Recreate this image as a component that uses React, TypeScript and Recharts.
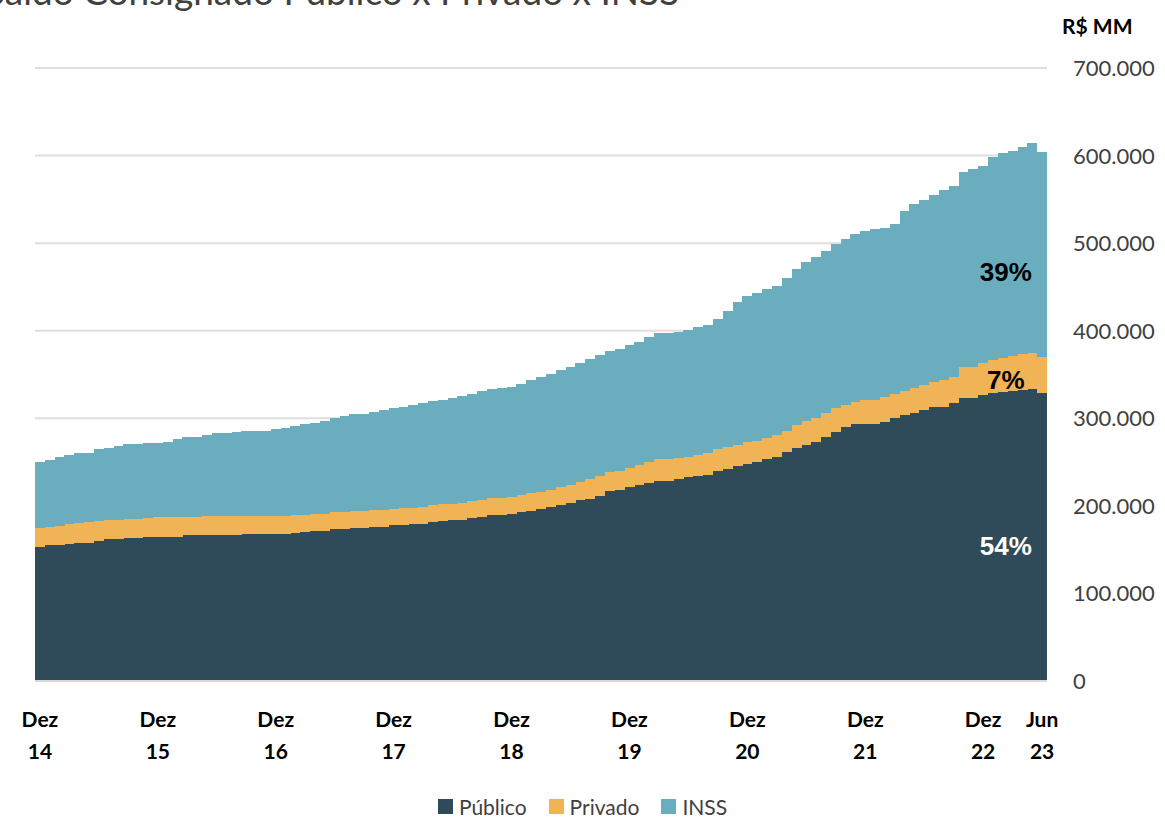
import React from 'react'
import { BarChart, Bar, XAxis, YAxis, CartesianGrid, Legend, LabelList } from 'recharts'

// saldo mensal, R$ MM, de Dez/14 a Jun/23
const meses = ['Jan', 'Fev', 'Mar', 'Abr', 'Mai', 'Jun', 'Jul', 'Ago', 'Set', 'Out', 'Nov', 'Dez']

const publico = [
  153000, 155300, 155300, 156500, 157600, 157600, 159900, 162200, 162200, 163300, 163300, 164400,
  164400, 164600, 164800, 166500, 166700, 166700, 166800, 166800, 166900, 167900, 167900, 168000,
  168000, 168100, 169000, 170200, 171300, 171400, 173600, 173700, 174700, 174800, 175900, 176000,
  178200, 178300, 179300, 179400, 181600, 182700, 183900, 184000, 186100, 187300, 189600, 189700,
  190700, 193000, 194100, 196400, 198700, 201000, 203300, 206700, 207800, 211300, 217000, 218100,
  221500, 223800, 226100, 228400, 228500, 230700, 233000, 234100, 235300, 239800, 242100, 245500,
  247800, 250100, 253500, 255800, 261500, 266100, 269500, 272900, 278600, 284400, 290100, 293500,
  293600, 293700, 295800, 300300, 303800, 306100, 309500, 312900, 313000, 317500, 323200, 323300,
  326600, 328900, 330000, 331200, 332300, 333500, 328900,
]

const privado = [
  21700, 20600, 21700, 22800, 22800, 23400, 22800, 21700, 22200, 21700, 22200, 22300,
  22500, 22600, 22500, 20600, 21000, 21200, 21300, 21400, 21300, 20600, 20600, 20700,
  20600, 20600, 20600, 19400, 19500, 19400, 19400, 19600, 19400, 19500, 19400, 19400,
  18300, 19400, 18300, 19400, 19400, 19400, 18300, 19400, 19400, 19400, 19400, 19500,
  19400, 19400, 20600, 19400, 19600, 20600, 20600, 20600, 22800, 22800, 21700, 21700,
  21700, 22800, 24000, 25100, 25100, 24000, 22800, 24000, 25100, 25100, 25100, 24000,
  25100, 24000, 24000, 25100, 24000, 26300, 27400, 27400, 27400, 27400, 25100, 25100,
  27400, 27400, 28600, 27400, 27400, 28600, 28600, 28600, 30800, 29700, 35400, 35400,
  36500, 37700, 38800, 40000, 41100, 41100, 41100,
]

const inss = [
  75400, 76500, 78800, 78300, 79900, 79400, 82200, 82300, 83400, 85700, 85000, 85100,
  85200, 85700, 89100, 91400, 91500, 92500, 94800, 94900, 95900, 97100, 97200, 97300,
  99400, 100500, 101600, 103900, 103400, 106200, 107300, 109600, 110800, 110900, 111900, 114200,
  115300, 115400, 117600, 118800, 118300, 119000, 121100, 122200, 122300, 124500, 124000, 125600,
  125700, 126800, 129000, 131300, 132500, 133600, 134800, 135900, 137000, 138200, 137600, 139300,
  140500, 140600, 142800, 143900, 144000, 143300, 145000, 146200, 146300, 148500, 155300, 163300,
  166700, 169000, 170200, 170300, 174700, 178200, 181600, 183900, 185000, 187300, 189600, 191900,
  193000, 195300, 193000, 194100, 205600, 210100, 211300, 213600, 217000, 218100, 222700, 226100,
  225000, 231800, 234100, 234100, 236400, 239800, 234100,
]

const rotulosX = ['Dez 14', 'Dez 15', 'Dez 16', 'Dez 17', 'Dez 18', 'Dez 19', 'Dez 20', 'Dez 21', 'Dez 22', 'Jun 23']
const ticksY = [0, 100000, 200000, 300000, 400000, 500000, 600000, 700000]
const participacao = ['54%', '7%', '39%']
const nomes = ['Público', 'Privado', 'INSS']

const cores = { publico: '#2f4b5a', privado: '#f0b355', inss: '#6aadbe' }

// categorias: Dez 14 seguido de Jan 15 ... Jun 23
const categorias: string[] = ['Dez 14']
for (let ano = 15; ano <= 23; ano++) {
  for (let m = 0; m < 12; m++) {
    if (ano === 23 && m > 5) break
    categorias.push(`${meses[m]} ${ano}`)
  }
}

const dados = categorias.map((mes, i) => ({
  mes,
  publico: publico[i],
  privado: privado[i],
  inss: inss[i],
}))

const indiceRotulo = categorias.length - 5

const fmt = (v: number) => String(v).replace(/\B(?=(\d{3})+(?!\d))/g, '.')

function XTick(props: any) {
  const { x, y, payload } = props
  if (!rotulosX.includes(payload.value)) return <g />
  const [a, b] = payload.value.split(' ')
  const style = { fontFamily: 'Lato, sans-serif', fontWeight: 700, fontSize: 21, fill: '#000' }
  return (
    <g>
      <text x={x} y={y + 46} textAnchor="middle" {...style}>{a}</text>
      <text x={x} y={y + 78} textAnchor="middle" {...style}>{b}</text>
    </g>
  )
}

function YTick(props: any) {
  const { x, y, payload } = props
  return (
    <text x={x} y={y + 8} textAnchor="start" fontFamily="Lato, sans-serif" fontSize={22} fill="#404040">
      {fmt(payload.value)}
    </text>
  )
}

const rotuloPct = (texto: string, cor: string, dy: number) => (props: any) => {
  const { x, y, width, height, index } = props
  if (index !== indiceRotulo) return <g />
  return (
    <text
      x={x + width / 2 + 3}
      y={y + height / 2 + dy}
      textAnchor="middle"
      fill={cor}
      fontFamily="'Liberation Sans', Arial, sans-serif"
      fontWeight={700}
      fontSize={26}
    >
      {texto}
    </text>
  )
}

function Legenda(props: any) {
  const itens = [...(props.payload || [])].sort((a: any, b: any) => nomes.indexOf(a.value) - nomes.indexOf(b.value))
  return (
    <div style={{ display: 'flex', justifyContent: 'center', gap: 22, fontFamily: 'Lato, sans-serif', fontSize: 21, color: '#404040' }}>
      {itens.map((p: any) => (
        <span key={p.value} style={{ display: 'flex', alignItems: 'center' }}>
          <span style={{ display: 'inline-block', width: 15, height: 15, background: p.color, marginRight: 6 }} />
          {p.value}
        </span>
      ))}
    </div>
  )
}

export default function App() {
  return (
    <div style={{ position: 'absolute', left: 0, top: 0, width: 1165, height: 818, overflow: 'hidden', background: '#fff' }}>
      <div style={{ position: 'absolute', left: -15, top: -32, fontFamily: 'Lato, sans-serif', fontSize: 37, color: '#404040', whiteSpace: 'nowrap' }}>
        Saldo Consignado Público x Privado x INSS
      </div>
      <div style={{ position: 'absolute', left: 1062, top: 13, fontFamily: 'Lato, sans-serif', fontWeight: 700, fontSize: 21, color: '#000' }}>
        R$ MM
      </div>
      <BarChart
        width={1165}
        height={818}
        data={dados}
        margin={{ top: 68, right: 0, bottom: 0, left: 35 }}
        barCategoryGap={0}
        barGap={0}
      >
        <CartesianGrid vertical={false} stroke="#dedede" strokeWidth={2} />
        <XAxis
          dataKey="mes"
          height={137}
          interval={0}
          tickLine={false}
          tickSize={0}
          tickMargin={0}
          axisLine={{ stroke: '#d9d9d9', strokeWidth: 2 }}
          tick={<XTick />}
        />
        <YAxis
          orientation="right"
          width={118}
          domain={[0, 700000]}
          ticks={ticksY}
          axisLine={false}
          tickLine={false}
          tickSize={0}
          tickMargin={26}
          tick={<YTick />}
        />
        <Legend
          layout="horizontal"
          verticalAlign="middle"
          align="center"
          wrapperStyle={{ top: 794, left: 0, width: 1165 }}
          content={<Legenda />}
        />
        <Bar dataKey="publico" name="Público" stackId="a" fill={cores.publico} shapeRendering="crispEdges" isAnimationActive={false}>
          <LabelList dataKey="publico" content={rotuloPct(participacao[0], '#fff', 18)} />
        </Bar>
        <Bar dataKey="privado" name="Privado" stackId="a" fill={cores.privado} shapeRendering="crispEdges" isAnimationActive={false}>
          <LabelList dataKey="privado" content={rotuloPct(participacao[1], '#000', 14)} />
        </Bar>
        <Bar dataKey="inss" name="INSS" stackId="a" fill={cores.inss} shapeRendering="crispEdges" isAnimationActive={false}>
          <LabelList dataKey="inss" content={rotuloPct(participacao[2], '#000', 25)} />
        </Bar>
      </BarChart>
    </div>
  )
}
